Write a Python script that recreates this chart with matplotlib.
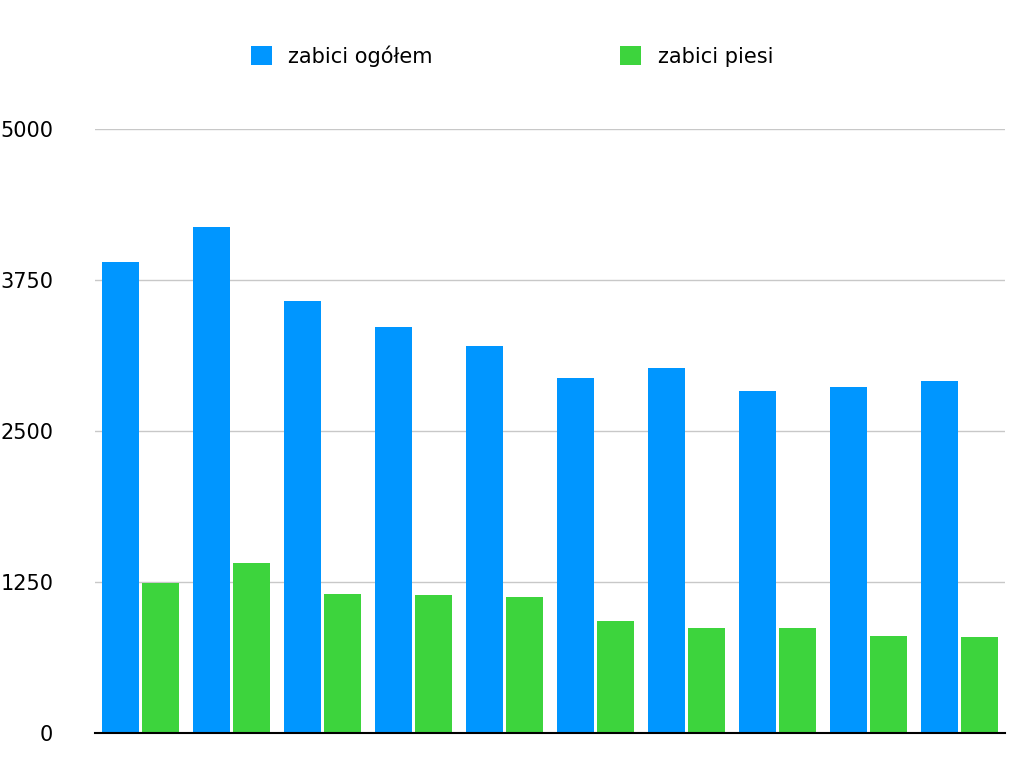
import numpy as np
from matplotlib import pyplot as plt

series_names = ["zabici ogółem", "zabici piesi"]
killed_total = [3899, 4189, 3576, 3361, 3204, 2939, 3021, 2831, 2864, 2914]
killed_pedestrians = [1242, 1407, 1151, 1142, 1126, 927, 869, 869, 803, 795]
y_ticks = [0, 1250, 2500, 3750, 5000]

fig = plt.figure(figsize=(10.24, 7.62), dpi=100)
ax = fig.add_axes([95 / 1024, 1 - 733 / 762, 910 / 1024, 604 / 762])

x = np.arange(len(killed_total))
w = 0.405
ax.bar(x - w / 2 - 0.017, killed_total, w, color="#0096FF", label=series_names[0])
ax.bar(x + w / 2 + 0.017, killed_pedestrians, w, color="#3DD43D", label=series_names[1])

ax.set_xlim(-0.5, len(x) - 0.5)
ax.set_ylim(0, 5000)
ax.set_yticks(y_ticks)
ax.set_yticklabels([str(t) for t in y_ticks], fontsize=15)
ax.set_xticks([])
ax.grid(axis="y", color="#c8c8c8", linewidth=1)
ax.set_axisbelow(True)
for s in ["top", "right", "left"]:
    ax.spines[s].set_visible(False)
ax.spines["bottom"].set_linewidth(1.5)
ax.tick_params(axis="y", length=0, pad=30)

fig.legend(loc="upper center", bbox_to_anchor=(0.5, 0.965), ncol=2, frameon=False,
           fontsize=15, handlelength=1, handleheight=1, columnspacing=9)
fig.savefig("out.png", dpi=100)
